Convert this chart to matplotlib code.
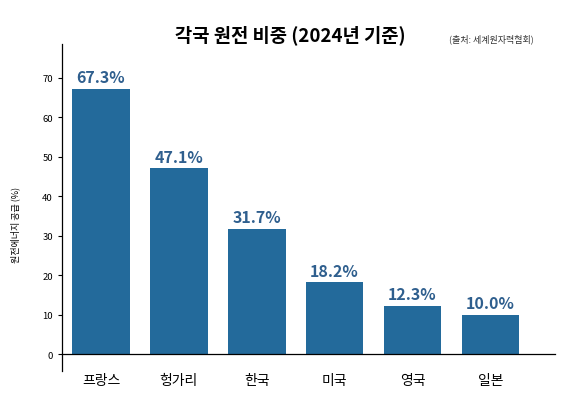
import matplotlib
matplotlib.use("Agg")
import matplotlib.pyplot as plt

plt.rcParams['font.family'] = ['Noto Sans CJK KR', 'DejaVu Sans']

# data
countries = ['프랑스', '헝가리', '한국', '미국', '영국', '일본']
shares = [67.3, 47.1, 31.7, 18.2, 12.3, 10.0]
yticks = [0, 10, 20, 30, 40, 50, 60, 70]

bar_color = '#236a9b'
label_color = '#2f5f8e'

fig = plt.figure(figsize=(5.8, 4.1), dpi=100)
ax = fig.add_axes([62 / 580, 1 - 372 / 410, (555 - 62) / 580, (372 - 45) / 410])

x = list(range(len(countries)))
bars = ax.bar(x, shares, width=0.74, color=bar_color)

for b, v in zip(bars, shares):
    ax.text(b.get_x() + b.get_width() / 2, v + 0.9, f'{v:.1f}%',
            ha='center', va='bottom', fontsize=11.5, fontweight='bold',
            color=label_color)

ax.set_xlim(-0.5, 5.83)
ax.set_ylim(-4.3, 78.6)
ax.set_yticks(yticks)
ax.set_xticks(x)
ax.set_xticklabels(countries, fontsize=10.5, fontweight='bold')
ax.tick_params(axis='x', length=0, pad=14)
ax.tick_params(axis='y', labelsize=6.8, length=3, width=0.8)

ax.spines['top'].set_visible(False)
ax.spines['right'].set_visible(False)
ax.spines['bottom'].set_position(('data', 0))
ax.spines['bottom'].set_linewidth(0.9)
ax.spines['left'].set_linewidth(0.9)

ax.set_ylabel('원전에너지 공급 (%)', fontsize=6.5)
ax.yaxis.set_label_coords(-0.085, 0.45)

fig.text(0.5, 1 - 35 / 410, '각국 원전 비중 (2024년 기준)', ha='center', va='center',
         fontsize=13.5, fontweight='bold')
fig.text(449 / 580, 1 - 39 / 410, '(출처: 세계원자력협회)', ha='left', va='center',
         fontsize=6.5, color='#333333')

fig.savefig('out.png', dpi=100)
